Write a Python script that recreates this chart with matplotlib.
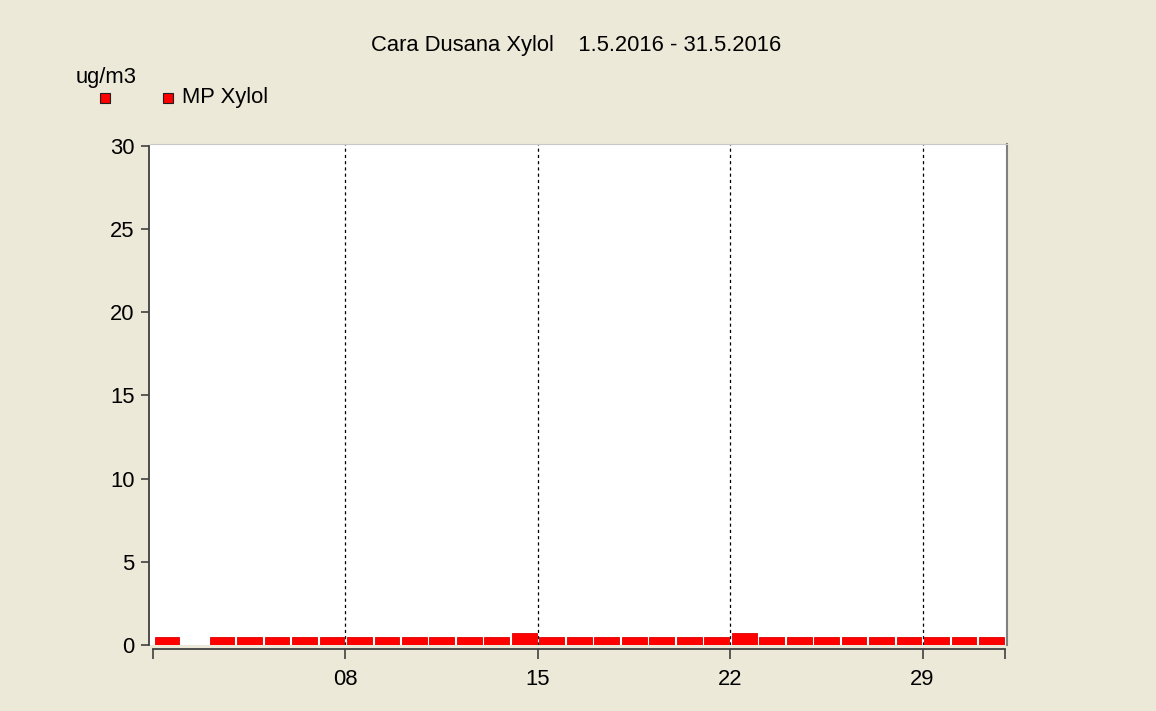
import matplotlib.pyplot as plt
import numpy as np

plt.rcParams['font.family'] = ['Liberation Sans', 'DejaVu Sans']

# daily values, May 2016 (day 2 missing)
days = list(range(1, 32))
xylol = [0.5, None, 0.5, 0.5, 0.5, 0.5, 0.5, 0.5, 0.5, 0.5,
         0.5, 0.5, 0.5, 0.7, 0.5, 0.5, 0.5, 0.5, 0.5, 0.5,
         0.5, 0.7, 0.5, 0.5, 0.5, 0.5, 0.5, 0.5, 0.5, 0.5, 0.5]
title = "Cara Dusana Xylol    1.5.2016 - 31.5.2016"
unit = "ug/m3"
series_name = "MP Xylol"
xtick_pos = [1, 8, 15, 22, 29, 32]
xtick_lab = ["", "08", "15", "22", "29", ""]

bg = '#ECE9D8'
W, H = 1156, 711
fs = 15.8
fig = plt.figure(figsize=(W/100, H/100), dpi=100, facecolor=bg)
ax = fig.add_axes([150/W, 1-645/H, 857/W, 501/H])
ax.set_facecolor('white')

x = [d + 0.06 for d, v in zip(days, xylol) if v is not None]
y = [v for v in xylol if v is not None]
ax.bar(x, y, width=0.9, align='edge', color='#FF0000', edgecolor='#E00000', lw=0.6, zorder=3)

for d in [8, 15, 22, 29]:
    ax.axvline(d, color='black', lw=0.9, ls=(0, (2.5, 2.5)), zorder=2)

ax.set_xlim(1 - 3/27.5, 32 + 2/27.5)
ax.set_ylim(0, 30.1)
ax.set_xticks(xtick_pos)
ax.set_xticklabels(xtick_lab)
ax.set_yticks(np.arange(0, 31, 5))

ax.spines['left'].set_position(('outward', 1))
ax.spines['left'].set_bounds(0, 30)
ax.spines['bottom'].set_position(('outward', 3))
ax.spines['bottom'].set_bounds(1, 32)
for s in ['left', 'bottom']:
    ax.spines[s].set_color('#404040')
    ax.spines[s].set_linewidth(1.3)
ax.spines['top'].set_color('#C8C8C8')
ax.spines['right'].set_color('#808080')
ax.spines['right'].set_linewidth(1.5)

ax.tick_params(axis='x', length=7, width=1.2, color='#404040', labelsize=fs, pad=7)
ax.tick_params(axis='y', length=6, width=1.2, color='#404040', labelsize=fs, pad=4)

fig.text(576/W, 1-46/H, title, ha='center', va='center', fontsize=fs)
fig.text(106/W, 1-78/H, unit, ha='center', va='center', fontsize=fs)
fig.lines.append(plt.Line2D([105/W], [1-98/H], transform=fig.transFigure, marker='s', ms=7.5,
                            mfc='#FF0000', mec='#202020', mew=0.8, ls=''))
fig.lines.append(plt.Line2D([168/W], [1-98/H], transform=fig.transFigure, marker='s', ms=7.5,
                            mfc='#FF0000', mec='#202020', mew=0.8, ls=''))
fig.text(182/W, 1-98/H, series_name, ha='left', va='center', fontsize=fs)

fig.savefig('out.png', dpi=100, facecolor=bg)
